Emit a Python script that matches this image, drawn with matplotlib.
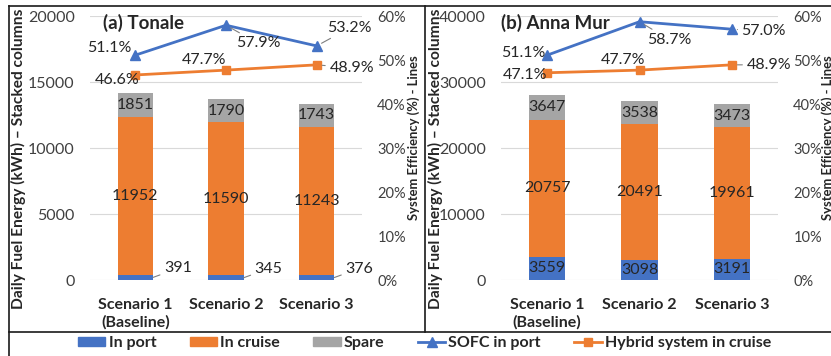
import matplotlib
matplotlib.use('Agg')
import matplotlib.pyplot as plt
from matplotlib.patches import Patch
from matplotlib.lines import Line2D
import numpy as np

plt.rcParams['font.family'] = ['Lato', 'DejaVu Sans']

# data
scenarios = ['Scenario 1\n(Baseline)', 'Scenario 2', 'Scenario 3']
tonale_port = [391, 345, 376]
tonale_cruise = [11952, 11590, 11243]
tonale_spare = [1851, 1790, 1743]
tonale_sofc = [51.1, 57.9, 53.2]
tonale_hybrid = [46.6, 47.7, 48.9]

anna_port = [3559, 3098, 3191]
anna_cruise = [20757, 20491, 19961]
anna_spare = [3647, 3538, 3473]
anna_sofc = [51.1, 58.7, 57.0]
anna_hybrid = [47.1, 47.7, 48.9]

BLUE = '#4472C4'
ORANGE = '#ED7D31'
GRAY = '#A5A5A5'
TXT = '#262626'
TICK = '#404040'
FS = 11.5

W, H = 831, 356
fig = plt.figure(figsize=(W / 100, H / 100), dpi=100)


def px_axes(x0, x1, ytop, ybot):
    return fig.add_axes([x0 / W, (H - ybot) / H, (x1 - x0) / W, (ybot - ytop) / H])


def draw_panel(ax, port, cruise, spare, sofc, hybrid, ymax, title, title_x,
               port_inside, sofc_offs, hyb_offs, llab_x, rlab_x):
    x = np.arange(len(scenarios))
    w = 0.39
    port = np.array(port)
    cruise = np.array(cruise)
    spare = np.array(spare)
    ax.bar(x, port, w, color=BLUE, zorder=2)
    ax.bar(x, cruise, w, bottom=port, color=ORANGE, zorder=2)
    ax.bar(x, spare, w, bottom=port + cruise, color=GRAY, zorder=2)
    ax.set_xlim(-0.5, 2.5)
    ax.set_ylim(0, ymax)
    ax.set_yticks(np.linspace(0, ymax, 5))
    ax.grid(axis='y', color='#D9D9D9', lw=0.8, zorder=0)
    ax.set_axisbelow(True)
    for s in ax.spines.values():
        s.set_visible(False)
    ax.tick_params(axis='y', length=0, pad=11, labelsize=FS, labelcolor=TICK)
    ax.tick_params(axis='x', length=0, pad=13, labelsize=FS)
    ax.set_xticks(x)
    ax.set_xticklabels(scenarios, fontweight='bold', color=TXT, linespacing=1.3)
    ax.set_ylabel('Daily Fuel Energy (kWh) – Stacked columns', fontsize=11.2,
                  fontweight='bold', color=TXT)
    ax.yaxis.set_label_coords(llab_x, 0.46)
    ax.text(title_x, 0.975, title, transform=ax.transAxes, fontsize=13.5,
            fontweight='bold', color=TXT, va='center', ha='left')

    for i in range(len(x)):
        ax.text(x[i], port[i] + cruise[i] / 2, str(cruise[i]), ha='center',
                va='center', fontsize=FS, color=TXT, zorder=3)
        ax.text(x[i], port[i] + cruise[i] + spare[i] / 2, str(spare[i]),
                ha='center', va='center', fontsize=FS, color=TXT, zorder=3)
        if port_inside:
            ax.text(x[i], port[i] / 2, str(port[i]), ha='center', va='center',
                    fontsize=FS, color=TXT, zorder=3)
        else:
            ax.annotate(str(port[i]), xy=(x[i] + w / 2, port[i] / 2),
                        xytext=(11, 9), textcoords='offset pixels',
                        ha='left', va='center', fontsize=FS, color=TXT,
                        arrowprops=dict(arrowstyle='-', color='#7F7F7F', lw=0.8,
                                        shrinkA=1, shrinkB=0))

    ax2 = ax.twinx()
    ax2.set_ylim(0, 60)
    ax2.set_yticks(np.arange(0, 61, 10))
    ax2.set_yticklabels([f'{v}%' for v in range(0, 61, 10)])
    for s in ax2.spines.values():
        s.set_visible(False)
    ax2.tick_params(axis='y', length=0, pad=11, labelsize=10.5, labelcolor=TICK)
    ax2.plot(x, sofc, color=BLUE, lw=2, marker='^', ms=7, zorder=4)
    ax2.plot(x, hybrid, color=ORANGE, lw=2, marker='s', ms=6, zorder=4)
    ax2.set_ylabel('System Efficiency (%) - Lines', fontsize=9.4,
                   fontweight='bold', color=TXT, rotation=90)
    ax2.yaxis.set_label_coords(rlab_x, 0.54)

    for vals, offs in ((sofc, sofc_offs), (hybrid, hyb_offs)):
        for i in range(len(x)):
            dx, dy, lead = offs[i]
            kw = {}
            if lead:
                kw['arrowprops'] = dict(arrowstyle='-', color='#7F7F7F', lw=0.8,
                                        shrinkA=1, shrinkB=4)
            ax2.annotate(f'{vals[i]:.1f}%', xy=(x[i], vals[i]), xytext=(dx, dy),
                         textcoords='offset pixels', ha='center', va='center',
                         fontsize=FS, color=TXT, zorder=5, **kw)
    return ax2


ax_a = px_axes(90, 362, 16, 280)
draw_panel(ax_a, tonale_port, tonale_cruise, tonale_spare, tonale_sofc,
           tonale_hybrid, 20000, '(a) Tonale', 0.048, False,
           [(-26, 7, False), (32, -18, True), (33, 18, True)],
           [(-18, -5, False), (-22, 10, False), (35, -3, True)],
           -0.235, 1.165)

ax_b = px_axes(501, 778, 16, 280)
draw_panel(ax_b, anna_port, anna_cruise, anna_spare, anna_sofc,
           anna_hybrid, 40000, '(b) Anna Mur', 0.0, True,
           [(-24, 2, False), (30, -18, True), (32, -2, True)],
           [(-22, -2, False), (-16, 10, False), (37, 0, True)],
           -0.208, 1.158)

# frame lines like the original figure box
def fline(xs, ys):
    fig.add_artist(Line2D([v / W for v in xs], [(H - v) / H for v in ys],
                          color='#1A1A1A', lw=1.2))

fline([9, W], [6, 6])
fline([9, 9], [6, H])
fline([425, 425], [6, 332])
fline([9, W], [332, 332])

handles = [Patch(color=BLUE), Patch(color=ORANGE), Patch(color=GRAY),
           Line2D([], [], color=BLUE, lw=2, marker='^', ms=7),
           Line2D([], [], color=ORANGE, lw=2, marker='s', ms=6)]
labels = ['In port', 'In cruise', 'Spare', 'SOFC in port', 'Hybrid system in cruise']
leg = fig.legend(handles, labels, loc='center', bbox_to_anchor=(0.511, 0.037),
                 ncol=5, frameon=False, prop={'weight': 'bold', 'size': FS},
                 handlelength=1.7, handleheight=0.5, handletextpad=0.2,
                 columnspacing=2.1)
for t in leg.get_texts():
    t.set_color(TXT)

fig.savefig('out.png', dpi=100)
